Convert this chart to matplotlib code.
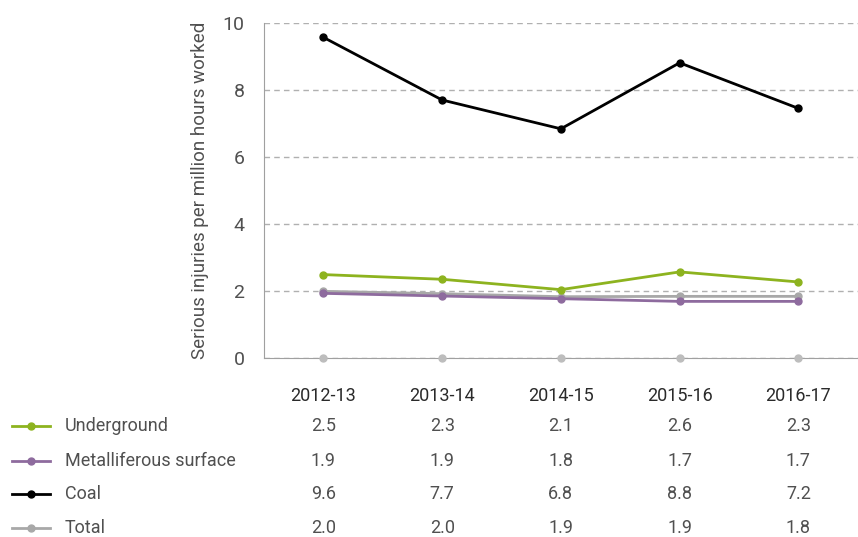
import matplotlib.pyplot as plt
from matplotlib.lines import Line2D
from matplotlib.transforms import blended_transform_factory

# data
years = ["2012-13", "2013-14", "2014-15", "2015-16", "2016-17"]
underground = [2.49, 2.35, 2.04, 2.57, 2.27]
metalliferous = [1.93, 1.85, 1.77, 1.69, 1.69]
coal = [9.57, 7.70, 6.84, 8.81, 7.45]
total = [1.99, 1.92, 1.83, 1.84, 1.84]
baseline = [0, 0, 0, 0, 0]

# table values
names = ["Underground", "Metalliferous surface", "Coal", "Total"]
table_rows = [
    ["2.5", "2.3", "2.1", "2.6", "2.3"],
    ["1.9", "1.9", "1.8", "1.7", "1.7"],
    ["9.6", "7.7", "6.8", "8.8", "7.2"],
    ["2.0", "2.0", "1.9", "1.9", "1.8"],
]
colours = ["#8db31f", "#8e6b9e", "#000000", "#a8a8a8"]

plt.rcParams['font.family'] = ['Roboto', 'DejaVu Sans']
head_col = "#2a2a2a"
text_col = "#505050"

fig = plt.figure(figsize=(8.58, 5.37), dpi=100)
ax = fig.add_axes([0.3077, 0.3333, 0.692, 0.624])

x = list(range(len(years)))
ax.plot(x, baseline, color="#bdbdbd", marker="o", markersize=5, lw=0,
        clip_on=False, zorder=4)
for vals, c in zip([total, metalliferous, underground, coal],
                   [colours[3], colours[1], colours[0], colours[2]]):
    ax.plot(x, vals, color=c, lw=2, marker="o", markersize=5)

ax.set_xlim(-0.5, 4.5)
ax.set_ylim(0, 10)
ax.set_yticks([0, 2, 4, 6, 8, 10])
ax.set_xticks([])
ax.yaxis.grid(True, linestyle=(0, (4, 3)), color="#b0b0b0", lw=1)
ax.set_axisbelow(True)
for s in ["top", "right"]:
    ax.spines[s].set_visible(False)
for s in ["left", "bottom"]:
    ax.spines[s].set_color("#a0a0a0")
ax.tick_params(axis="y", length=0, labelsize=14, labelcolor=text_col, pad=14)
ax.set_ylabel("Serious injuries per million hours worked", fontsize=13.5,
              color=text_col, labelpad=10)

# data table under the chart
tr = blended_transform_factory(ax.transData, ax.transAxes)
row_y = [-0.203, -0.307, -0.406, -0.507]
for i, yr in enumerate(years):
    ax.text(i, -0.113, yr, transform=tr, ha="center", va="center",
            fontsize=13, color=head_col)
for r, (name, c, vals) in enumerate(zip(names, colours, table_rows)):
    yy = row_y[r]
    fy = 0.3333 + yy * 0.624
    fig.add_artist(Line2D([12 / 858, 50 / 858], [fy, fy], color=c, lw=2,
                          transform=fig.transFigure))
    fig.add_artist(Line2D([31 / 858], [fy], color=c, marker="o", markersize=5,
                          transform=fig.transFigure))
    fig.text(65 / 858, fy, name, ha="left", va="center", fontsize=13,
             color=text_col)
    for i, v in enumerate(vals):
        ax.text(i, yy, v, transform=tr, ha="center", va="center",
                fontsize=13, color=text_col)

fig.savefig("out.png", dpi=100)
